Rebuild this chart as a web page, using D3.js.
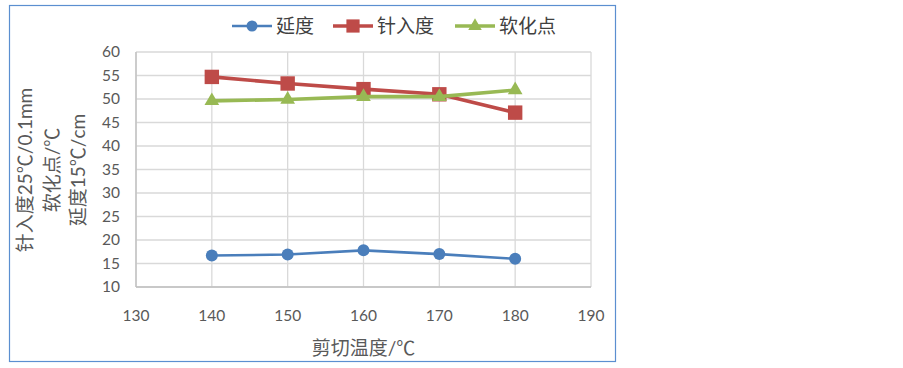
<!DOCTYPE html>
<html>
<head>
<meta charset="utf-8">
<script src="https://cdn.jsdelivr.net/npm/d3@7"></script>
<style>
  body { margin: 0; background: #fff; }
  svg text { font-family: Lato, "Noto Sans CJK SC", sans-serif; fill: #595959; }
</style>
</head>
<body>
<div id="chart"></div>
<script>
const temps = [140, 150, 160, 170, 180];
const ductility = [16.7, 16.9, 17.8, 17.0, 16.0];
const penetration = [54.7, 53.3, 52.1, 51.0, 47.1];
const softening = [49.6, 49.9, 50.5, 50.5, 51.9];
const xTicks = [130, 140, 150, 160, 170, 180, 190];
const yTicks = [10, 15, 20, 25, 30, 35, 40, 45, 50, 55, 60];
const yTitleLines = ["针入度25℃/0.1mm", "软化点/℃", "延度15℃/cm"];

const series = [
  { name: "延度", values: ductility, color: "#4a7ebb", shape: "circle" },
  { name: "针入度", values: penetration, color: "#be4b48", shape: "square" },
  { name: "软化点", values: softening, color: "#98b954", shape: "triangle" }
];

const width = 903, height = 368;
const plot = { left: 136, right: 591, top: 52, bottom: 287 };

const svg = d3.select("#chart").append("svg")
  .attr("width", width).attr("height", height);

// chart frame
svg.append("rect")
  .attr("x", 9.5).attr("y", 5.5)
  .attr("width", 606).attr("height", 356)
  .attr("fill", "#fff").attr("stroke", "#5b8fd0").attr("stroke-width", 1.2);

const x = d3.scaleLinear().domain([130, 190]).range([plot.left, plot.right]);
const y = d3.scaleLinear().domain([10, 60]).range([plot.bottom, plot.top]);

// gridlines
const grid = svg.append("g").attr("stroke", "#d9d9d9").attr("stroke-width", 1.3);
grid.selectAll("line.h").data(yTicks).enter().append("line")
  .attr("x1", plot.left).attr("x2", plot.right)
  .attr("y1", d => y(d)).attr("y2", d => y(d));
grid.selectAll("line.v").data(xTicks).enter().append("line")
  .attr("y1", plot.top).attr("y2", plot.bottom)
  .attr("x1", d => x(d)).attr("x2", d => x(d));

// axes lines
svg.append("line").attr("x1", plot.left).attr("x2", plot.left)
  .attr("y1", plot.top).attr("y2", plot.bottom).attr("stroke", "#bfbfbf").attr("stroke-width", 1.3);
svg.append("line").attr("x1", plot.left).attr("x2", plot.right)
  .attr("y1", plot.bottom).attr("y2", plot.bottom).attr("stroke", "#bfbfbf").attr("stroke-width", 1.3);

// tick labels
svg.append("g").selectAll("text").data(yTicks).enter().append("text")
  .attr("x", plot.left - 16).attr("y", d => y(d))
  .attr("dy", "0.35em").attr("text-anchor", "end")
  .attr("font-size", 15.5).text(d => d);
svg.append("g").selectAll("text").data(xTicks).enter().append("text")
  .attr("x", d => x(d)).attr("y", 321)
  .attr("text-anchor", "middle")
  .attr("font-size", 15.5).text(d => d);

// axis titles
svg.append("text").attr("x", x(160)).attr("y", 355)
  .attr("text-anchor", "middle").attr("font-size", 19).text("剪切温度/℃");
const yTitle = svg.append("text")
  .attr("transform", "translate(0,170) rotate(-90)")
  .attr("text-anchor", "middle").attr("font-size", 19);
yTitle.selectAll("tspan").data(yTitleLines).enter().append("tspan")
  .attr("x", 0).attr("y", (d, i) => 32 + i * 26.5).text(d => d);

// markers
function drawMarker(g, shape, color, size) {
  if (shape === "circle") {
    g.append("circle").attr("r", size * 0.5).attr("fill", color);
  } else if (shape === "square") {
    g.append("rect").attr("x", -size * 0.6).attr("y", -size * 0.6)
      .attr("width", size * 1.2).attr("height", size * 1.2).attr("fill", color);
  } else {
    g.append("path").attr("d", d3.symbol(d3.symbolTriangle, size * size * 0.65)())
      .attr("fill", color);
  }
}

const line = d3.line().x((d, i) => x(temps[i])).y(d => y(d));

series.forEach(s => {
  svg.append("path").datum(s.values)
    .attr("d", line).attr("fill", "none")
    .attr("stroke", s.color).attr("stroke-width", s.shape === "circle" ? 2.6 : 3.6);
  s.values.forEach((v, i) => {
    const g = svg.append("g").attr("transform", `translate(${x(temps[i])},${y(v)})`);
    drawMarker(g, s.shape, s.color, 12);
  });
});

// legend
const legendPos = [232, 333, 455];
series.forEach((s, i) => {
  const lg = svg.append("g").attr("transform", `translate(${legendPos[i]},26)`);
  lg.append("line").attr("x1", 0).attr("x2", 40)
    .attr("stroke", s.color).attr("stroke-width", s.shape === "circle" ? 2.6 : 3.6);
  const m = lg.append("g").attr("transform", "translate(20,0)");
  drawMarker(m, s.shape, s.color, 11);
  lg.append("text").attr("x", 44).attr("dy", "0.35em")
    .attr("font-size", 19).style("fill", "#404040").text(s.name);
});
</script>
</body>
</html>
